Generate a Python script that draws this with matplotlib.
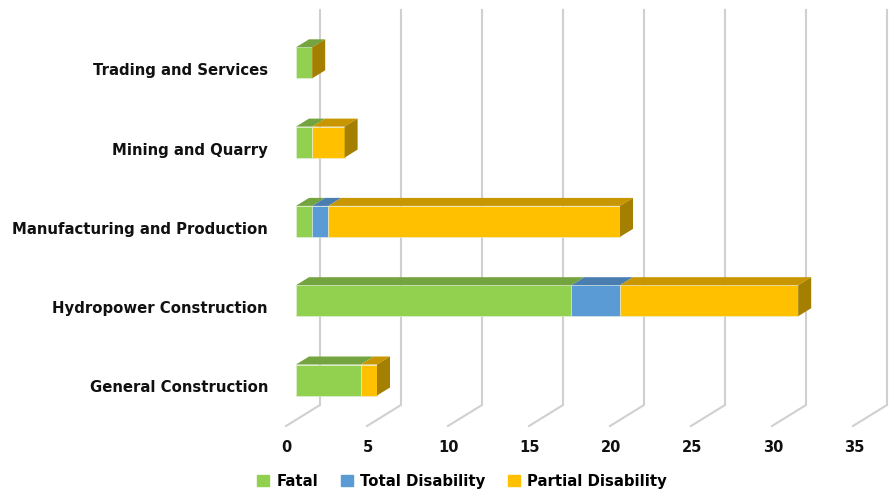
import matplotlib.pyplot as plt
from matplotlib.patches import Polygon, Patch

categories = ['General Construction', 'Hydropower Construction', 'Manufacturing and Production',
              'Mining and Quarry', 'Trading and Services']
fatal = [4, 17, 1, 1, 1]
total_disability = [0, 3, 1, 0, 0]
partial_disability = [1, 11, 18, 2, 0]
series_names = ['Fatal', 'Total Disability', 'Partial Disability']
x_ticks = [0, 5, 10, 15, 20, 25, 30, 35]

front_colors = ['#92D050', '#5B9BD5', '#FFC000']
top_colors = ['#74A43F', '#4A7DB0', '#C79600']
side_color = '#A47F00'
grid_color = '#D0D0D0'

# pixel layout of the Excel-style 3D chart
px_unit = 16.2      # px per value unit
px_cat = 79.3       # px between categories
x0_px, y0_px = 296, 380
dx = 13 / px_unit   # depth offset of the bars
dy = 8 / px_cat
bar_h = 31 / px_cat
wall_off = (320 - x0_px) / px_unit
floor_front_off = (286 - x0_px) / px_unit
floor_front_y = (y0_px - 426) / px_cat
floor_back_y = (y0_px - 405) / px_cat
wall_top_y = (y0_px - 10) / px_cat

fig = plt.figure(figsize=(8.94, 4.92), dpi=100)
ax = fig.add_axes([0, 0, 1, 1])
ax.set_xlim(-x0_px / px_unit, (894 - x0_px) / px_unit)
ax.set_ylim((y0_px - 492) / px_cat, y0_px / px_cat)
ax.axis('off')

# gridlines: floor diagonal + back wall vertical
for v in x_ticks:
    ax.plot([v + floor_front_off, v + wall_off, v + wall_off],
            [floor_front_y, floor_back_y, wall_top_y],
            color=grid_color, lw=1.5, zorder=1, solid_joinstyle='miter')
    ax.text(v + floor_front_off + 0.05, (y0_px - 447) / px_cat, str(v),
            ha='center', va='center', fontsize=10.5, fontweight='bold', color='#111111')

series = [fatal, total_disability, partial_disability]
for i, cat in enumerate(categories):
    left = 0
    for s, vals in enumerate(series):
        w = vals[i]
        ax.barh(i, w, left=left, height=bar_h, color=front_colors[s],
                edgecolor='#E8F0E0', linewidth=0.4, zorder=3)
        top = i + bar_h / 2
        ax.add_patch(Polygon([(left, top), (left + w, top), (left + w + dx, top + dy),
                              (left + dx, top + dy)], closed=True,
                             facecolor=top_colors[s], edgecolor='none', zorder=3))
        left += w
    bot, top = i - bar_h / 2, i + bar_h / 2
    ax.add_patch(Polygon([(left, bot), (left + dx, bot + dy), (left + dx, top + dy), (left, top)],
                         closed=True, facecolor=side_color, edgecolor='none', zorder=3))
    ax.text((268 - x0_px) / px_unit, i - 8 / px_cat, cat, ha='right', va='center',
            fontsize=10.7, fontweight='bold', color='#111111')

handles = [Patch(color=c) for c in front_colors]
fig.legend(handles, series_names, loc='center', bbox_to_anchor=(0.517, 0.022), ncol=3,
           frameon=False, prop={'weight': 'bold', 'size': 10.7}, handlelength=0.8,
           handleheight=0.8, columnspacing=1.5, handletextpad=0.5)

fig.savefig('out.png', dpi=100)
